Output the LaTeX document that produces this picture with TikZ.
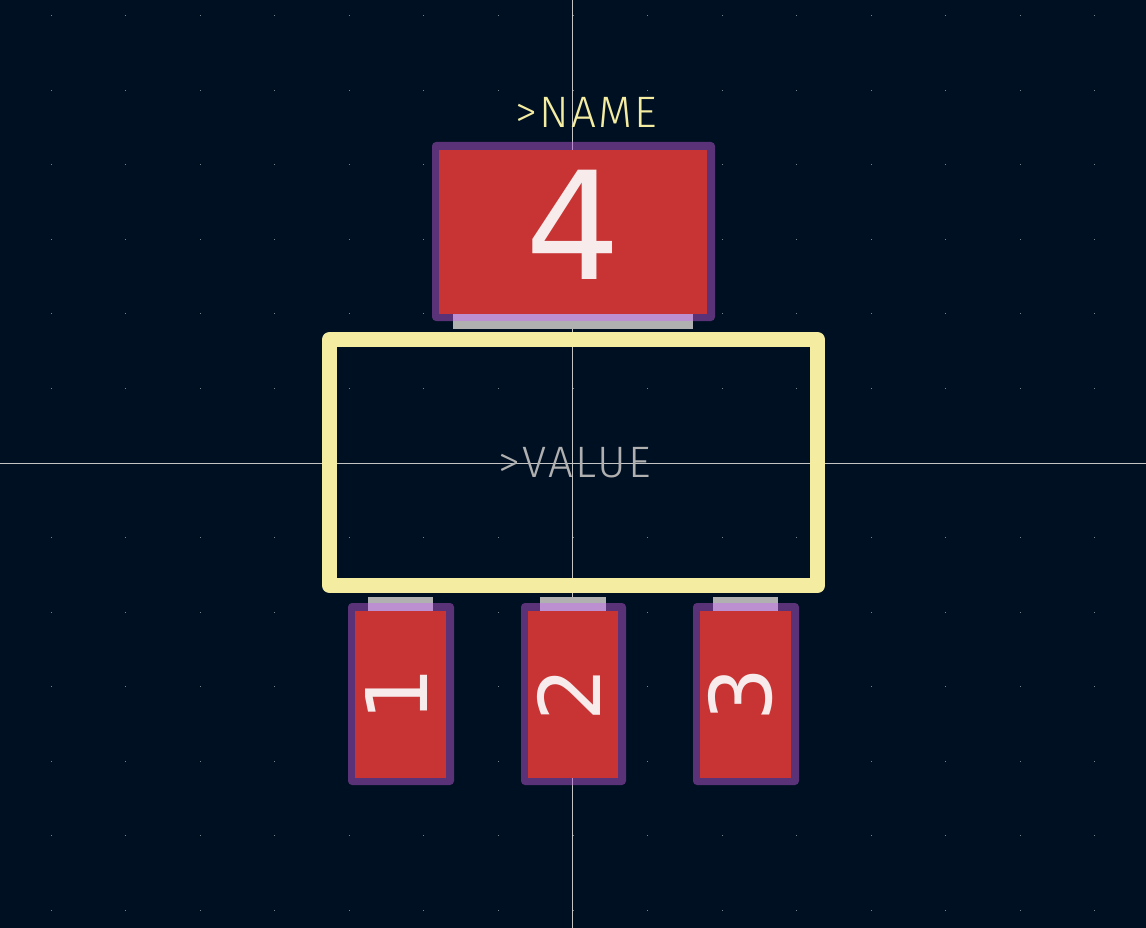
\documentclass[tikz,border=0pt]{standalone}
\usepackage{fontspec}
\setmainfont{DejaVu Sans}
\newfontfamily\thinfont[UprightFont=* Light,LetterSpace=5]{Fira Sans}
\definecolor{bgc}{HTML}{001023}
\definecolor{padred}{HTML}{C83434}
\definecolor{maskp}{HTML}{5A3278}
\definecolor{pasteg}{HTML}{B0B0B0}
\definecolor{lav}{HTML}{BC8FD0}
\definecolor{silk}{HTML}{F4EDA1}
\definecolor{cross}{HTML}{C4C4C4}
\definecolor{numc}{HTML}{F7EBEB}
\definecolor{griddot}{HTML}{7A8288}
\tikzset{
  maskbox/.style={fill=maskp,rounded corners=4pt},
  padbox/.style={fill=padred},
  pastebox/.style={fill=pasteg},
  lapbox/.style={fill=lav},
  crossline/.style={draw=cross,line width=1pt},
  silkline/.style={draw=silk,line width=15pt,line join=round},
  numlabel/.style={text=numc,inner sep=0pt,font=\fontsize{#1}{#1}\selectfont},
  stroketext/.style={inner sep=0pt,font=\thinfont\fontsize{44}{44}\selectfont}
}
\begin{document}
\begin{tikzpicture}[x=1pt,y=-1pt]
\useasboundingbox (0,0) rectangle (1146,928);
\fill[bgc] (0,0) rectangle (1146,928);
% grid
\foreach \i in {-7,...,7}{\foreach \j in {-6,...,6}{
  \fill[griddot] ({572.5+\i*74.55},{463+\j*74.55-0.5}) rectangle +(1,1);
}}
% crosshair
\coordinate (ct) at (572.5,0); \coordinate (cb) at (572.5,928);
\coordinate (cl) at (0,463); \coordinate (cr) at (1146,463);
\draw[crossline] (ct) -- (cb);
\draw[crossline] (cl) -- (cr);
% mask
\path[maskbox] (432,142) rectangle (715,321);
\foreach \a/\b in {348/454,521/626,693/799}{
  \path[maskbox] (\a,603) rectangle (\b,785);
}
\draw[crossline,draw=lav] (572.5,142) -- (572.5,150);
\draw[crossline,draw=lav] (572.5,778) -- (572.5,785);
% paste
\path[pastebox] (453,314) rectangle (693,329);
\path[lapbox] (453,314) rectangle (693,321);
\foreach \a/\b in {368/433,540/606,713/778}{
  \path[pastebox] (\a,597) rectangle (\b,611);
  \path[lapbox] (\a,603) rectangle (\b,611);
}
% copper
\path[padbox] (439,150) rectangle (707,314);
\path[padbox] (355,611) rectangle (446,778);
\path[padbox] (528,611) rectangle (618,778);
\path[padbox] (700,611) rectangle (791,778);
% silk
\draw[silkline] (329.5,339.5) rectangle (817.5,585.5);
% labels
\node[numlabel=150] (p4) at (573,225) {4};
\node[numlabel=85,rotate=90] (p1) at (396.5,694) {1};
\node[numlabel=85,rotate=90] (p2) at (569,694) {2};
\node[numlabel=85,rotate=90] (p3) at (741,694) {3};
\node[stroketext,text=silk] (nm) at (586,112.5) {>NAME};
\node[stroketext,text=pasteg] (vl) at (574.5,462.5) {>VALUE};
\end{tikzpicture}
\end{document}
